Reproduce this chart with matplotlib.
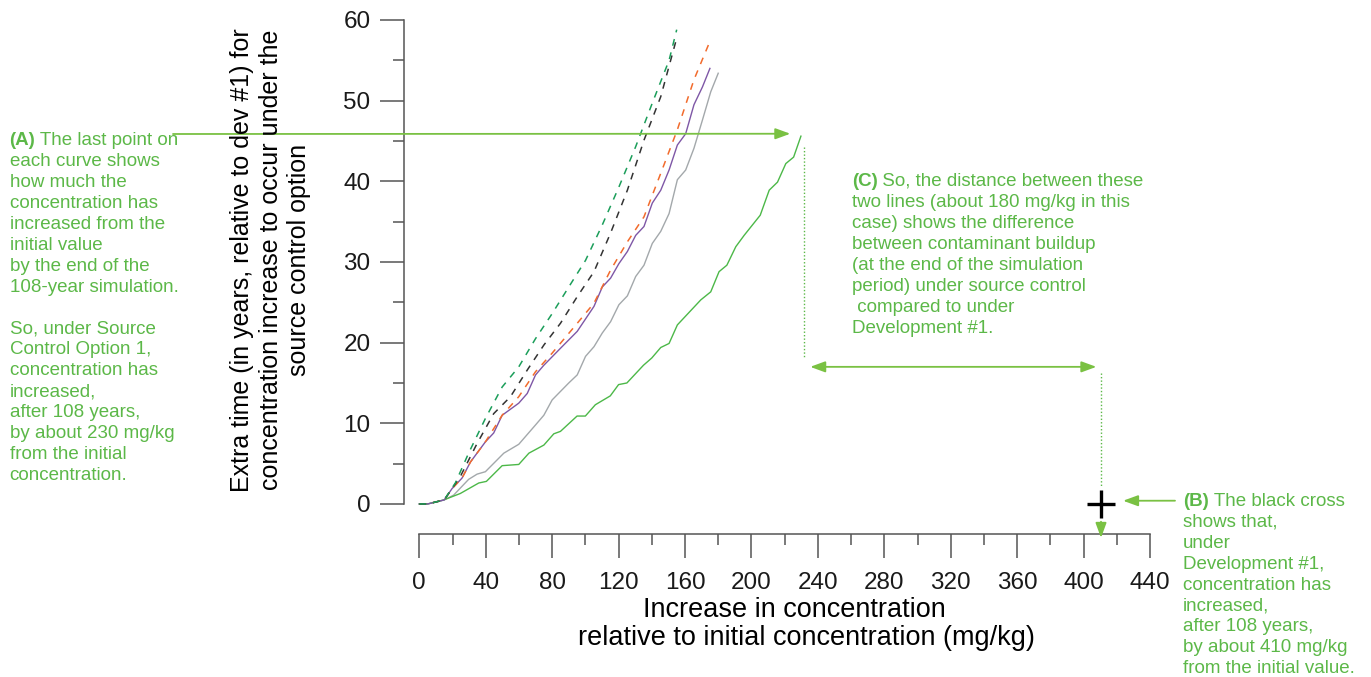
import matplotlib
matplotlib.use("Agg")
import matplotlib.pyplot as plt
from matplotlib.ticker import MultipleLocator

plt.rcParams['font.family'] = ['Liberation Sans', 'DejaVu Sans']

# curves: increase in concentration (mg/kg) vs extra time (years)
dash_green_x = [0, 5, 15, 21.7, 29.7, 39.8, 49.9, 59.9, 70, 80, 90, 100.1, 110.2, 120.2, 130.3, 140.3, 150.4, 155]
dash_green_y = [0, 0, 0.5, 2.6, 6.3, 10.6, 14.5, 17.0, 20.5, 23.6, 26.9, 30.2, 34.6, 39.3, 44.3, 49.7, 55.0, 58.8]

dash_black_x = [0, 5, 15, 24.7, 34.8, 44.8, 54.9, 65, 75, 85, 95.1, 105.2, 115.2, 125.3, 135.3, 145.4, 154.4]
dash_black_y = [0, 0, 0.5, 3.4, 7.5, 11.2, 13.3, 16.6, 19.7, 22.4, 25.7, 28.8, 33.6, 38.9, 45.1, 50.5, 57.3]

dash_orange_x = [0, 5, 15, 19.7, 25.7, 30.8, 39.8, 49.9, 59.9, 70, 80, 95.1, 105.2, 115.2, 125.3, 135.3,
                 145.4, 155.4, 165.4, 175.5]
dash_orange_y = [0, 0, 0.5, 1.9, 3.2, 5.2, 7.7, 11.0, 13.3, 16.4, 18.7, 22.4, 24.9, 29.0, 32.5, 35.6,
                 41.0, 46.4, 52.6, 57.6]

purple_x = [0, 5, 15, 19.7, 25.7, 30.8, 39.8, 44.8, 49.9, 59.9, 65, 70, 75, 85, 95.1, 105.2, 110.2, 115.2,
            120.2, 125.3, 130.3, 135.3, 140.3, 145.4, 150.4, 155.4, 160.4, 165.4, 170.5, 175]
purple_y = [0, 0, 0.5, 1.9, 3.2, 5.2, 7.7, 8.8, 11.0, 12.5, 13.7, 16.0, 17.2, 19.3, 21.4, 24.5, 26.9, 28.0,
            29.8, 31.3, 33.3, 34.4, 37.3, 38.9, 41.4, 44.5, 45.9, 49.5, 51.7, 54.0]

gray_x = [0, 5, 15, 20.7, 29.7, 34.8, 39.8, 50.9, 59.9, 70, 75, 80, 90, 95.1, 100.1, 105.2, 110.2, 115.2,
          120.2, 125.3, 130.3, 135.3, 140.3, 145.4, 150.4, 155.4, 160.4, 165.4, 170.5, 175.5, 180]
gray_y = [0, 0, 0.5, 1.1, 3.05, 3.7, 4.0, 6.3, 7.4, 9.8, 11.0, 12.9, 15.0, 16.0, 18.3, 19.5, 21.2, 22.6,
          24.7, 25.8, 28.2, 29.6, 32.3, 33.8, 36.0, 40.2, 41.4, 44.1, 47.6, 51.1, 53.4]

green_x = [0, 5, 14.7, 24.7, 35.8, 40.4, 49.9, 59.9, 66, 75, 81, 85, 95, 100, 106, 115, 120, 125, 135, 140,
           145.4, 150.4, 155.4, 169.5, 175.5, 180.5, 185.2, 190.6, 195.6, 205.3, 210.7, 215.7, 220.7, 225.4, 229.8]
green_y = [0, 0, 0.5, 1.3, 2.6, 2.8, 4.75, 4.9, 6.3, 7.3, 8.7, 9.0, 10.9, 10.9, 12.3, 13.4, 14.8, 15.0, 17.2, 18.1,
           19.4, 19.9, 22.2, 25.3, 26.3, 28.8, 29.6, 31.9, 33.3, 35.8, 38.9, 39.9, 42.2, 43.0, 45.6]

# Development #1 end point
dev1_x = 410.5
dev1_y = 0

note_a = ["each curve shows", "how much the", "concentration has", "increased from the", "initial value",
          "by the end of the", "108-year simulation.", "", "So, under Source", "Control Option 1,",
          "concentration has", "increased,", "after 108 years,", "by about 230 mg/kg", "from the initial",
          "concentration."]
note_b = ["shows that,", "under", "Development #1,", "concentration has", "increased,", "after 108 years,",
          "by about 410 mg/kg", "from the initial value."]
note_c = ["two lines (about 180 mg/kg in this", "case) shows the difference", "between contaminant buildup",
          "(at the end of the simulation", "period) under source control", " compared to under",
          "Development #1."]

W, H = 1371, 677
TXT = '#5cb848'
ARR = '#7ac143'

fig = plt.figure(figsize=(W / 100, H / 100), dpi=100)
ax = fig.add_axes([404.3 / W, (H - 534.3) / H, 745.7 / W, 514.3 / H])
ax.set_xlim(-9.03, 440)
ax.set_ylim(-3.76, 60)

dash = (0, (4.5, 4.5))
ax.plot(gray_x, gray_y, color='#a3a8ab', lw=1.0)
ax.plot(green_x, green_y, color='#4cb848', lw=1.0)
ax.plot(purple_x, purple_y, color='#7e57a6', lw=1.0)
ax.plot(dash_orange_x, dash_orange_y, color='#f26b2c', lw=1.1, ls=dash)
ax.plot(dash_black_x, dash_black_y, color='#333333', lw=1.1, ls=dash)
ax.plot(dash_green_x, dash_green_y, color='#1b9e5a', lw=1.1, ls=dash)
ax.plot(dev1_x, dev1_y, marker='+', color='black', markersize=20, mew=2.4, clip_on=False)

for s in ['top', 'right']:
    ax.spines[s].set_visible(False)
for s in ['left', 'bottom']:
    ax.spines[s].set_color('#555555')
    ax.spines[s].set_linewidth(1.1)
ax.spines['left'].set_bounds(0, 60)
ax.spines['bottom'].set_bounds(0, 440)
ax.xaxis.set_major_locator(MultipleLocator(40))
ax.xaxis.set_minor_locator(MultipleLocator(20))
ax.yaxis.set_major_locator(MultipleLocator(10))
ax.yaxis.set_minor_locator(MultipleLocator(5))
ax.tick_params(which='major', length=17.3, width=1.1, color='#555555', labelsize=17.5, labelcolor='#1a1a1a')
ax.tick_params(which='minor', length=8, width=1.1, color='#555555')
ax.tick_params(axis='y', pad=7)
ax.tick_params(axis='x', pad=10)

# axis titles
fig.text(794 / W, 1 - 617 / H, "Increase in concentration", fontsize=19.5, ha='center', va='baseline')
fig.text(806 / W, 1 - 645 / H, "relative to initial concentration (mg/kg)", fontsize=19.5, ha='center',
         va='baseline')
ylab = ["Extra time (in years, relative to dev #1) for", "concentration increase to occur under the",
        "source control option"]
for xp, line in zip([242, 271, 299], ylab):
    fig.text(xp / W, 1 - 260 / H, line, fontsize=18, rotation=90, ha='center', va='center')

fig.canvas.draw()
renderer = fig.canvas.get_renderer()


def green_note(x, y, head, first, rest, step):
    t = fig.text(x / W, 1 - y / H, head, fontsize=13.5, weight='bold', color=TXT, va='baseline')
    bb = t.get_window_extent(renderer)
    fig.text(bb.x1 / W, 1 - y / H, first, fontsize=13.5, color=TXT, va='baseline')
    for i, line in enumerate(rest):
        fig.text(x / W, 1 - (y + step * (i + 1)) / H, line, fontsize=13.5, color=TXT, va='baseline')


green_note(9.5, 145, "(A)", " The last point on", note_a, 20.95)
green_note(1183, 505.7, "(B)", " The black cross", note_b, 20.95)
green_note(851.7, 185.7, "(C)", " So, the distance between these", note_c, 21.0)

# arrows and guide lines
head = '-|>,head_length=0.9,head_width=0.33'
ax.annotate("", xy=(223.4, 45.9), xytext=(173, H - 134), textcoords='figure pixels',
            arrowprops=dict(arrowstyle=head, mutation_scale=10, color=ARR, lw=1.3, shrinkA=0, shrinkB=0),
            annotation_clip=False)
ax.annotate("", xy=(423.8, 0.4), xytext=(1175, H - 500.7), textcoords='figure pixels',
            arrowprops=dict(arrowstyle=head, mutation_scale=10, color=ARR, lw=1.3, shrinkA=0, shrinkB=0),
            annotation_clip=False)
ax.annotate("", xy=(dev1_x, -4.2), xytext=(dev1_x, -2.2),
            arrowprops=dict(arrowstyle=head, mutation_scale=10, color=ARR, lw=1.3, shrinkA=0, shrinkB=0),
            annotation_clip=False)
ax.annotate("", xy=(407.7, 17.0), xytext=(235.4, 17.0),
            arrowprops=dict(arrowstyle='<|-|>,head_length=0.9,head_width=0.33', mutation_scale=10,
                            color=ARR, lw=1.3, shrinkA=0, shrinkB=0),
            annotation_clip=False)
ax.plot([231.6, 231.6], [44.3, 18.1], color=TXT, lw=1.0, ls=(0, (1, 1.5)), clip_on=False)
ax.plot([dev1_x, dev1_x], [16.2, 2.1], color=TXT, lw=1.0, ls=(0, (1, 1.5)), clip_on=False)

fig.savefig('out.png', dpi=100)
